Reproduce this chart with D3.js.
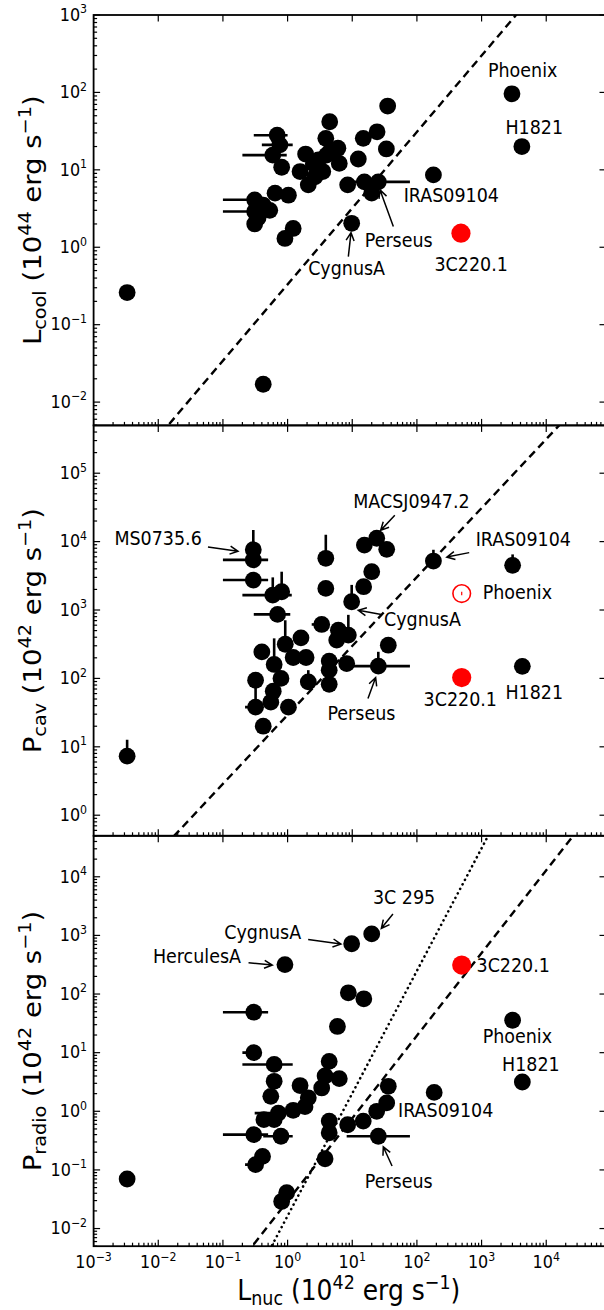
<!DOCTYPE html>
<html><head><meta charset="utf-8">
<script src="https://cdn.jsdelivr.net/npm/d3@7"></script>
<style>
html,body{margin:0;padding:0;background:#fff;}
svg{display:block;font-family:"DejaVu Sans","Bitstream Vera Sans",sans-serif;}
</style>
</head><body>
<svg id="chart" width="604" height="1310"></svg>
<script>
// ================= DATA =================
// shared x axis: L_nuc (10^42 erg/s)
const xDomain = [1e-3, 8.4e4];
const xTickExps = [-3, -2, -1, 0, 1, 2, 3, 4];

// ---- Panel 1: L_cool (10^44 erg/s) ----
const coolLnuc = [35.3, 4.48, 24.2, 14.8, 0.69, 0.76, 3.9, 6.0, 33.7, 1.9, 0.59, 12.4, 6.3, 4.0, 3.0, 2.65, 1.56, 2.09, 0.81, 8.5, 15.4, 25.3, 20, 180, 9.8, 1.22, 0.91, 1.03, 0.64, 0.53, 0.31, 0.31, 0.31, 0.42, 0.35, 4.6, 3.5, 2.5, 0.0033, 0.42, 2950, 4200];
const coolL    = [66.7, 41.8, 31, 25.5, 28, 21, 25.5, 19, 18.6, 16, 15.5, 13.8, 12.1, 15.5, 13.4, 8.1, 9.5, 6.4, 10.8, 6.4, 7.0, 7.0, 5.0, 8.6, 2.04, 1.75, 1.3, 4.7, 5.0, 3.0, 4.1, 2.9, 2.0, 3.5, 2.4, 17.5, 9.5, 12, 0.26, 0.017, 96, 20];
const coolRedLnuc = [480];
const coolRedL = [1.52];
// horizontal error bars: [x, y, xlow, xhigh]
const coolXerr = [[0.69, 28, 0.30, 1.0], [0.76, 21, 0.40, 1.2], [0.59, 15.5, 0.20, 0.97], [25.3, 7.0, 8.0, 78], [0.31, 4.1, 0.10, 0.5], [0.31, 2.9, 0.10, 0.5]];
const coolYTickExps = [-2, -1, 0, 1, 2, 3];
const coolFit = [0.985, -0.48]; // log slope, log intercept

// ---- Panel 2: P_cav (10^42 erg/s) ----
const cavLnuc = [0.295, 0.295, 0.295, 0.59, 0.81, 0.70, 3.9, 3.9, 15.4, 23.9, 34.1, 20, 15.0, 9.8, 180, 3.37, 6.1, 8.7, 5.75, 36.1, 1.61, 0.92, 0.40, 1.22, 1.93, 4.4, 8.2, 25.3, 0.62, 4.4, 0.32, 0.79, 2.09, 4.4, 0.60, 0.55, 0.32, 1.03, 0.42, 0.0033, 3020, 4270];
const cavP    = [7600, 5400, 2740, 1650, 1850, 863, 5700, 2070, 8900, 11200, 7700, 3630, 2190, 1320, 5200, 615, 508, 430, 363, 306, 392, 316, 244, 202, 202, 179, 165, 151, 160, 132, 94, 100, 89, 82, 65, 45, 38, 38, 20, 7.3, 4500, 150];
const cavRedLnuc = [493];
const cavRedP = [103];
const cavOpenLnuc = [493];
const cavOpenP = [1740];
const cavXerr = [[0.295, 5400, 0.10, 0.50], [0.295, 2740, 0.10, 0.50], [0.59, 1650, 0.20, 1.16], [0.70, 863, 0.30, 1.1], [3.37, 615, 2.36, 3.37], [25.3, 151, 8.2, 78], [0.32, 38, 0.22, 0.32]];
// vertical error bars: [x, y, ylow, yhigh]
const cavYerr = [[0.295, 7600, 7600, 14800], [0.59, 1650, 1650, 3000], [0.81, 1850, 1850, 3630], [3.9, 5700, 5700, 12600], [9.8, 1320, 1320, 2330], [8.7, 430, 430, 850], [0.92, 316, 316, 708], [25.3, 151, 151, 245], [0.62, 160, 160, 385], [0.32, 38, 38, 94], [2.09, 89, 89, 132], [0.0033, 7.3, 7.3, 12.7], [180, 5200, 5200, 7600], [3020, 4500, 4500, 6500], [4270, 150, 150, 195], [0.40, 244, 244, 290]];
const cavOpenYerr = [[493, 1740, 1640, 1850]];
const cavYTickExps = [0, 1, 2, 3, 4, 5];
const cavFit = [1.008, 1.466];

// ---- Panel 3: P_radio (10^42 erg/s) ----
const radLnuc = [20, 9.8, 0.91, 8.7, 15.1, 0.30, 5.9, 0.30, 4.4, 0.62, 3.8, 6.3, 0.62, 1.56, 3.37, 36.1, 0.55, 2.09, 1.86, 1.22, 34.1, 23.9, 0.72, 0.43, 0.62, 4.4, 8.5, 14.8, 0.30, 0.79, 4.4, 25.3, 3.8, 0.41, 0.32, 0.97, 0.81, 0.0033, 3020, 4270, 185];
const radP    = [1060, 720, 318, 105, 83, 49, 28, 10, 7.1, 6.3, 4.0, 3.6, 3.25, 2.75, 2.5, 2.67, 1.8, 1.7, 1.2, 1.04, 1.39, 1.0, 0.93, 0.72, 0.72, 0.68, 0.59, 0.68, 0.40, 0.375, 0.43, 0.375, 0.155, 0.17, 0.123, 0.041, 0.029, 0.070, 35.7, 3.16, 2.1];
const radRedLnuc = [493];
const radRedP = [312];
const radXerr = [[0.30, 49, 0.10, 0.50], [5.9, 28, 4.6, 5.9], [0.30, 10, 0.20, 0.30], [4.4, 7.1, 3.3, 4.4], [0.62, 6.3, 0.20, 1.2], [0.72, 0.93, 0.31, 0.72], [0.30, 0.40, 0.10, 0.50], [0.79, 0.375, 0.42, 1.2], [25.3, 0.375, 8.2, 78], [0.32, 0.123, 0.22, 0.32], [3.37, 2.5, 2.7, 3.37]];
const radYTickExps = [-2, -1, 0, 1, 2, 3, 4];
const radFitDashed = [1.41, -1.53];
const radFitDotted = [2.09, -1.784];

// annotations: [label, textX, textY(baseline), arrowFromX, arrowFromY, arrowTipX, arrowTipY]
const coolAnn = [
  ["Phoenix", 1257, 157], ["H1821", 2340, 29], ["IRAS09104", 62.5, 3.81],
  ["Perseus", 15.6, 1.0, 43.2, 1.85, 26.9, 5.5],
  ["CygnusA", 2.08, 0.44, 8.7, 0.757, 9.57, 1.545],
  ["3C220.1", 187, 0.499]
];
const cavAnn = [
  ["MS0735.6", 0.0021, 8810, 0.0587, 8340, 0.171, 7210],
  ["MACSJ0947.2", 10.35, 31300, 45.5, 24200, 27.5, 14600],
  ["IRAS09104", 811, 8610, 644, 6900, 290, 5940],
  ["Phoenix", 1040, 1430],
  ["CygnusA", 31, 578, 28.2, 857, 12.4, 991],
  ["Perseus", 4.13, 24.4, 17.5, 50.7, 23, 103],
  ["3C220.1", 127, 39.5], ["H1821", 2340, 49.5]
];
const radAnn = [
  ["3C 295", 20.9, 3420, 42.6, 2310, 28.2, 1320],
  ["CygnusA", 0.105, 865, 2.08, 855, 6.68, 711],
  ["HerculesA", 0.00826, 333, 0.249, 341, 0.581, 312],
  ["3C220.1", 835, 240], ["Phoenix", 1040, 14.8], ["H1821", 2070, 4.91],
  ["IRAS09104", 51, 0.789],
  ["Perseus", 15.6, 0.0485, 41.3, 0.1164, 30.2, 0.248]
];

// ================= LAYOUT =================
const LEFT = 93.6, RIGHT = 606;
const PANEL_H = 410.4, TOP0 = 15;
const SY = 1.1; // vertical text stretch of the original
const svg = d3.select("#chart");
const x = d3.scaleLog().domain(xDomain).range([LEFT, RIGHT]);

const DASH = "8,5", DOT = "0.1,5";
const panels = [
  {yDomain: [0.005, 1000], yTicks: coolYTickExps, title: ["L", "cool", "44"],
   xs: coolLnuc, ys: coolL, redX: coolRedLnuc, redY: coolRedL, xerr: coolXerr, yerr: [],
   fits: [[coolFit, DASH]], ann: coolAnn},
  {yDomain: [0.5, 5e5], yTicks: cavYTickExps, title: ["P", "cav", "42"],
   xs: cavLnuc, ys: cavP, redX: cavRedLnuc, redY: cavRedP, openX: cavOpenLnuc, openY: cavOpenP,
   xerr: cavXerr, yerr: cavYerr, openYerr: cavOpenYerr, fits: [[cavFit, DASH]], ann: cavAnn},
  {yDomain: [0.005, 5e4], yTicks: radYTickExps, title: ["P", "radio", "42"],
   xs: radLnuc, ys: radP, redX: radRedLnuc, redY: radRedP, xerr: radXerr, yerr: [],
   fits: [[radFitDashed, DASH], [radFitDotted, DOT]], ann: radAnn}
];

function sup(textSel, base, exp, fs) {
  textSel.append("tspan").text(base);
  textSel.append("tspan").attr("font-size", fs).attr("dy", -fs * 0.62).text(exp);
}

function minorTicks(domain) {
  const out = [];
  const a = Math.floor(Math.log10(domain[0])), b = Math.ceil(Math.log10(domain[1]));
  for (let k = a; k <= b; k++) for (let m = 2; m <= 9; m++) {
    const v = m * Math.pow(10, k);
    if (v >= domain[0] && v <= domain[1]) out.push(v);
  }
  return out;
}

panels.forEach((p, i) => {
  const top = TOP0 + i * PANEL_H, bottom = top + PANEL_H;
  const y = d3.scaleLog().domain(p.yDomain).range([bottom, top]);
  const g = svg.append("g");
  const clipId = "clip" + i;
  svg.append("clipPath").attr("id", clipId).append("rect")
    .attr("x", LEFT).attr("y", top).attr("width", RIGHT - LEFT).attr("height", PANEL_H);
  const plot = g.append("g").attr("clip-path", `url(#${clipId})`);

  // fit lines
  p.fits.forEach(([fit, dash]) => {
    const pts = xDomain.map(v => [v, Math.pow(10, fit[0] * Math.log10(v) + fit[1])]);
    const dotted = dash === DOT;
    plot.append("path")
      .attr("d", d3.line().x(d => x(d[0])).y(d => y(d[1]))(pts))
      .attr("fill", "none").attr("stroke", "#000").attr("stroke-width", dotted ? 2.6 : 2.4)
      .attr("stroke-dasharray", dash).attr("stroke-linecap", dotted ? "round" : "butt");
  });

  // error bars
  plot.selectAll(".xe").data(p.xerr).enter().append("line")
    .attr("x1", d => x(d[2])).attr("x2", d => x(d[3]))
    .attr("y1", d => y(d[1])).attr("y2", d => y(d[1]))
    .attr("stroke", "#000").attr("stroke-width", 2.6);
  plot.selectAll(".ye").data(p.yerr).enter().append("line")
    .attr("x1", d => x(d[0])).attr("x2", d => x(d[0]))
    .attr("y1", d => y(d[2])).attr("y2", d => y(d[3]))
    .attr("stroke", "#000").attr("stroke-width", 2.6);

  // points
  plot.selectAll(".pt").data(p.xs.map((v, j) => [v, p.ys[j]])).enter().append("circle")
    .attr("cx", d => x(d[0])).attr("cy", d => y(d[1])).attr("r", 8.4).attr("fill", "#000");
  plot.selectAll(".red").data(p.redX.map((v, j) => [v, p.redY[j]])).enter().append("circle")
    .attr("cx", d => x(d[0])).attr("cy", d => y(d[1])).attr("r", 9.6).attr("fill", "#ff0000");
  if (p.openX) {
    plot.selectAll(".open").data(p.openX.map((v, j) => [v, p.openY[j]])).enter().append("circle")
      .attr("cx", d => x(d[0])).attr("cy", d => y(d[1])).attr("r", 8.8)
      .attr("fill", "none").attr("stroke", "#ff0000").attr("stroke-width", 1.6);
    plot.selectAll(".oe").data(p.openYerr).enter().append("line")
      .attr("x1", d => x(d[0])).attr("x2", d => x(d[0]))
      .attr("y1", d => y(d[2])).attr("y2", d => y(d[3]))
      .attr("stroke", "#ff0000").attr("stroke-width", 1.2);
  }

  // annotations
  p.ann.forEach(a => {
    g.append("text")
      .attr("transform", `translate(${x(a[1])},${y(a[2])}) scale(1,${SY})`)
      .attr("font-size", 17.5).attr("fill", "#000").text(a[0]);
    if (a.length > 3) {
      const x1 = x(a[3]), y1 = y(a[4]), x2 = x(a[5]), y2 = y(a[6]);
      const dx = x2 - x1, dy = y2 - y1, L = Math.hypot(dx, dy), ux = dx / L, uy = dy / L;
      const hl = 8, hw = 4, bx = x2 - ux * hl, by = y2 - uy * hl, px = -uy, py = ux;
      g.append("path")
        .attr("d", `M${x1},${y1}L${x2},${y2}M${bx + px * hw},${by + py * hw}L${x2},${y2}L${bx - px * hw},${by - py * hw}`)
        .attr("fill", "none").attr("stroke", "#000").attr("stroke-width", 1.5);
    }
  });

  // ticks
  const ax = g.append("g").attr("stroke", "#000").attr("stroke-width", 1.2);
  const xMajors = xTickExps.map(e => Math.pow(10, e));
  xMajors.forEach(v => {
    ax.append("line").attr("x1", x(v)).attr("x2", x(v)).attr("y1", bottom).attr("y2", bottom - 6.5);
    ax.append("line").attr("x1", x(v)).attr("x2", x(v)).attr("y1", top).attr("y2", top + 6.5);
  });
  minorTicks(xDomain).forEach(v => {
    ax.append("line").attr("x1", x(v)).attr("x2", x(v)).attr("y1", bottom).attr("y2", bottom - 3.5);
  });
  p.yTicks.map(e => Math.pow(10, e)).forEach(v => {
    ax.append("line").attr("x1", LEFT).attr("x2", LEFT + 6.5).attr("y1", y(v)).attr("y2", y(v));
    ax.append("line").attr("x1", RIGHT).attr("x2", RIGHT - 6.5).attr("y1", y(v)).attr("y2", y(v));
  });
  minorTicks(p.yDomain).forEach(v => {
    ax.append("line").attr("x1", LEFT).attr("x2", LEFT + 3.5).attr("y1", y(v)).attr("y2", y(v));
  });

  // frame
  g.append("rect").attr("x", LEFT).attr("y", top).attr("width", RIGHT - LEFT).attr("height", PANEL_H)
    .attr("fill", "none").attr("stroke", "#000").attr("stroke-width", 1.8);

  // y tick labels
  p.yTicks.forEach(e => {
    const t = g.append("text")
      .attr("transform", `translate(${LEFT - 6.5},${y(Math.pow(10, e)) + 5.8}) scale(1,${SY})`)
      .attr("text-anchor", "end").attr("font-size", 16).attr("fill", "#000");
    sup(t, "10", e < 0 ? "\u2212" + (-e) : String(e), 11);
  });

  // y axis title
  const ty = g.append("text")
    .attr("transform", `translate(41,${(top + bottom) / 2}) scale(1,${SY}) rotate(-90)`)
    .attr("text-anchor", "middle").attr("font-size", 25).attr("fill", "#000");
  ty.append("tspan").text(p.title[0]);
  ty.append("tspan").attr("font-size", 17.5).attr("dy", 5).text(p.title[1]);
  ty.append("tspan").attr("dy", -5).text("\u00a0(10");
  ty.append("tspan").attr("font-size", 17.5).attr("dy", -10).text(p.title[2]);
  ty.append("tspan").attr("dy", 10).text("\u00a0erg s");
  ty.append("tspan").attr("font-size", 17.5).attr("dy", -10).text("\u22121");
  ty.append("tspan").attr("dy", 10).text(")");

  // x tick labels + title on bottom panel
  if (i === panels.length - 1) {
    xTickExps.forEach(e => {
      const t = g.append("text")
        .attr("transform", `translate(${x(Math.pow(10, e))},${bottom + 22}) scale(1,${SY})`)
        .attr("text-anchor", "middle").attr("font-size", 16).attr("fill", "#000");
      sup(t, "10", e < 0 ? "\u2212" + (-e) : String(e), 11);
    });
    const tx = g.append("text")
      .attr("transform", `translate(${(LEFT + 604) / 2},${bottom + 54}) scale(1,${SY})`)
      .attr("text-anchor", "middle").attr("font-size", 25).attr("fill", "#000");
    tx.append("tspan").text("L");
    tx.append("tspan").attr("font-size", 17.5).attr("dy", 4).text("nuc");
    tx.append("tspan").attr("dy", -4).text("\u00a0(10");
    tx.append("tspan").attr("font-size", 17.5).attr("dy", -10).text("42");
    tx.append("tspan").attr("dy", 10).text("\u00a0erg s");
    tx.append("tspan").attr("font-size", 17.5).attr("dy", -10).text("\u22121");
    tx.append("tspan").attr("dy", 10).text(")");
  }
});
</script>
</body></html>
